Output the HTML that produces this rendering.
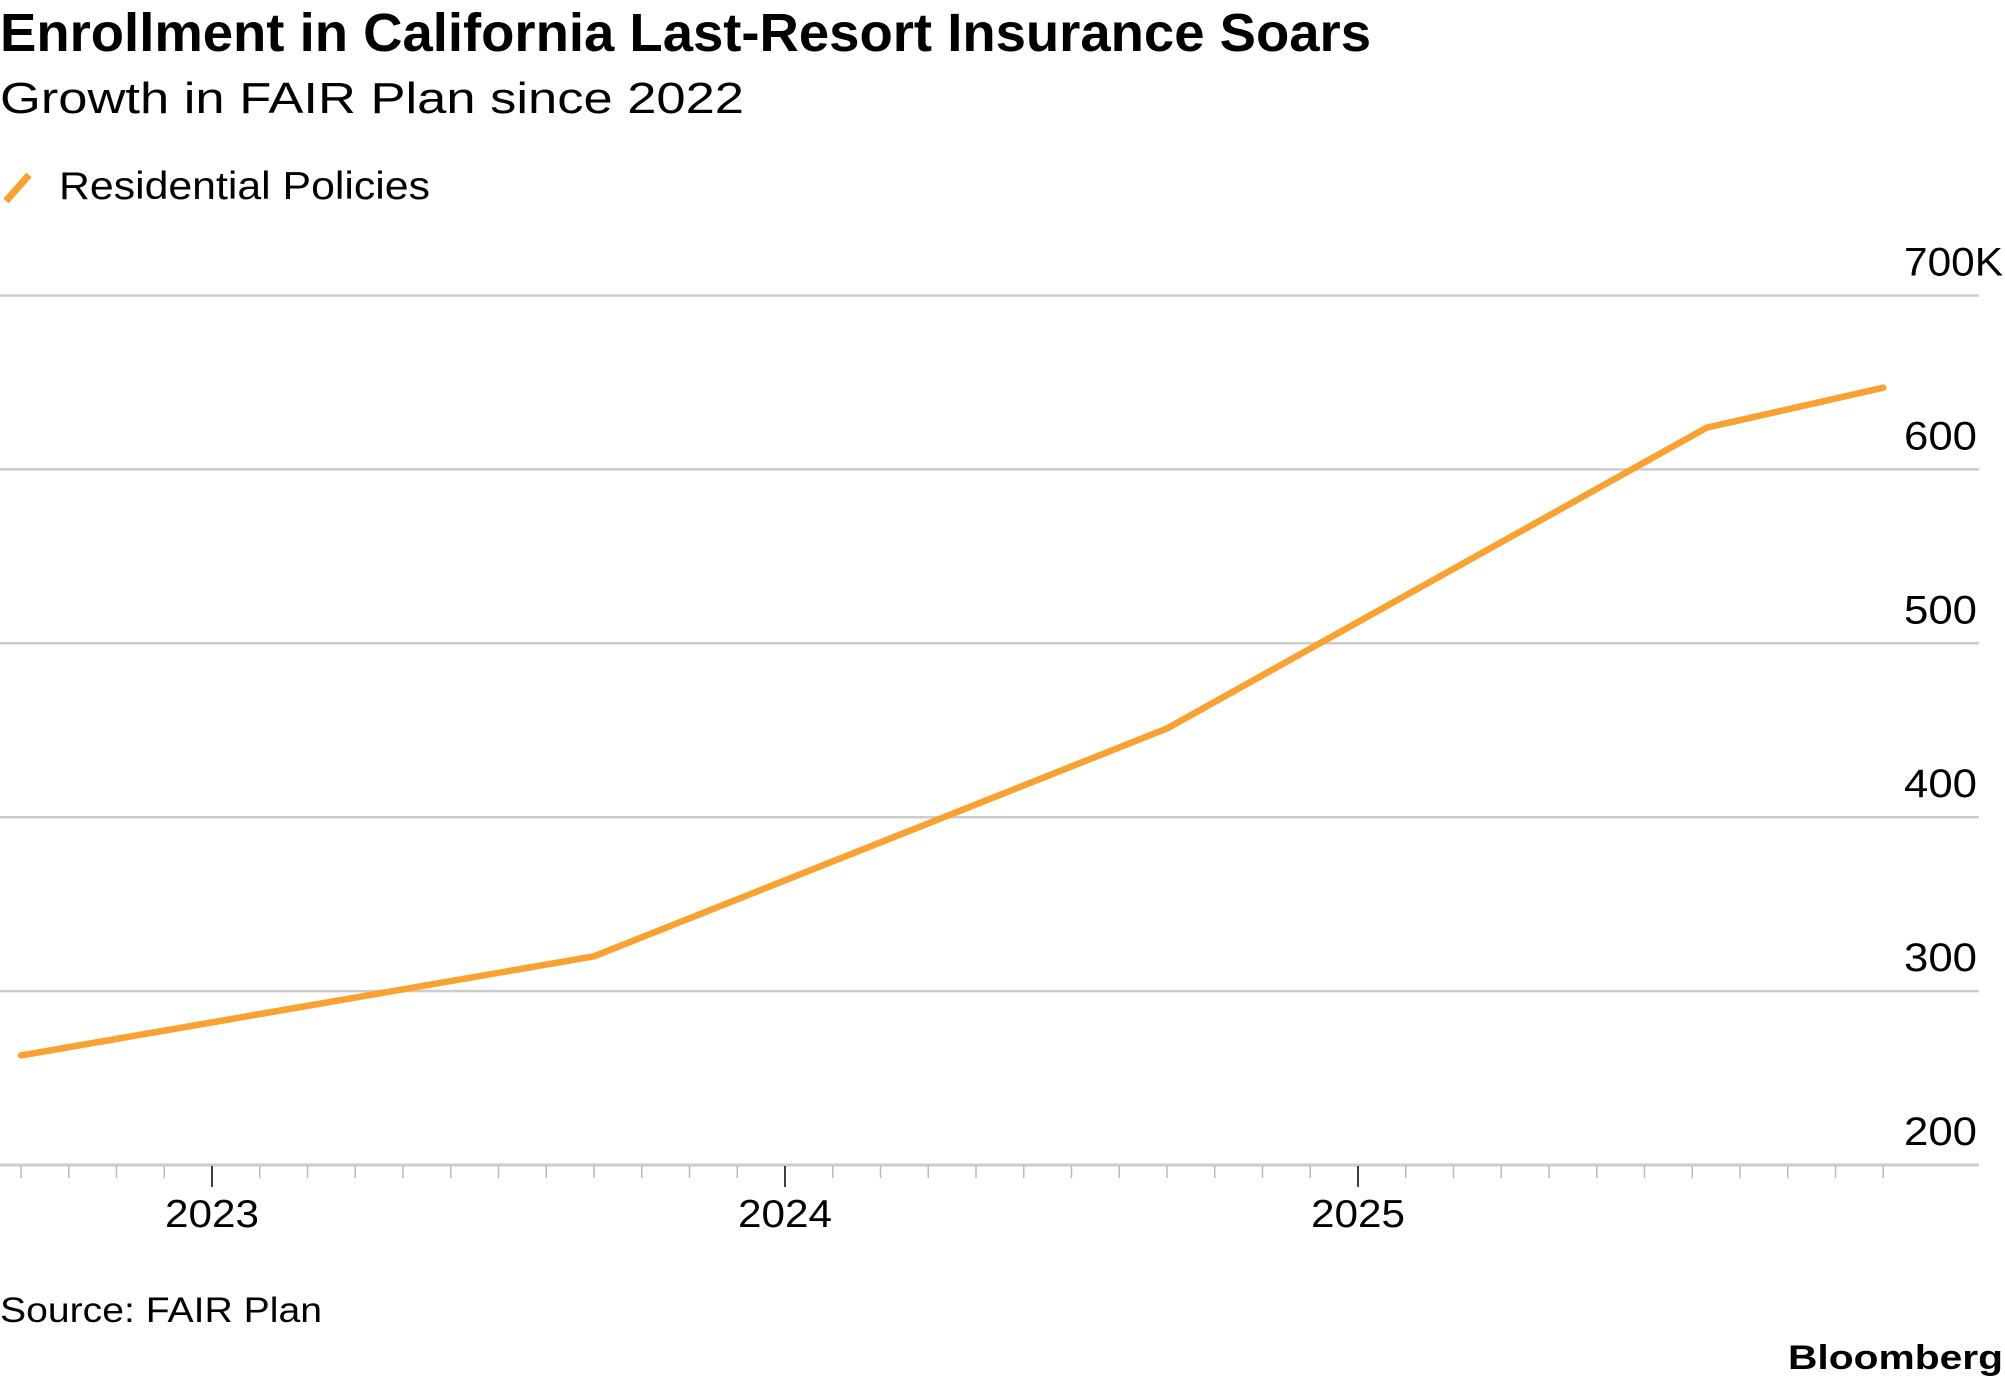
<!DOCTYPE html>
<html><head><meta charset="utf-8"><style>
html,body{margin:0;padding:0;background:#fff;}
svg{display:block;font-family:"Liberation Sans",sans-serif;}
</style></head><body>
<svg id="chart" width="2005" height="1392" viewBox="0 0 2005 1392" xmlns="http://www.w3.org/2000/svg">
<text x="0" y="51" font-size="54" font-weight="bold" fill="#000" textLength="1371" lengthAdjust="spacingAndGlyphs">Enrollment in California Last-Resort Insurance Soars</text>
<text x="0" y="113" font-size="44" fill="#000" textLength="744" lengthAdjust="spacingAndGlyphs">Growth in FAIR Plan since 2022</text>
<g>
<line x1="6" y1="201" x2="29" y2="175" stroke="#f9a131" stroke-width="7"/>
<text x="59" y="199" font-size="39" fill="#000" textLength="371" lengthAdjust="spacingAndGlyphs">Residential Policies</text>
</g>
<g id="grid"></g>
<g id="xaxis"></g>
<g id="series"></g>
<text x="0" y="1322" font-size="35" fill="#000" textLength="322" lengthAdjust="spacingAndGlyphs">Source: FAIR Plan</text>
<text x="1788" y="1369" font-size="34" font-weight="bold" fill="#000" textLength="215" lengthAdjust="spacingAndGlyphs">Bloomberg</text>
</svg>
<script>
// data (months since Jan 2022, values in thousands)
const months = [8, 20, 32, 43.3, 47];
const values = [263, 320, 451, 624, 647];
const yTicks = [200, 300, 400, 500, 600, 700];
const yTickLabels = ["200", "300", "400", "500", "600", "700K"];
const years = [2023, 2024, 2025];

const NS = "http://www.w3.org/2000/svg";
function xScale(m){ return 212 + (m - 12) * 47.75; }
function yScale(v){ return 1165 - (v - 200) * 1.739; }
function mk(tag, attrs){ const e = document.createElementNS(NS, tag); for (const k in attrs) e.setAttribute(k, attrs[k]); return e; }

const grid = document.getElementById('grid');
yTicks.forEach((v, i) => {
  const y = yScale(v);
  const ln = mk('line', {x1: 0, x2: 1979, y1: y, y2: y, stroke: '#cccccc', 'stroke-width': i === 0 ? 3 : 2.5});
  
  
  grid.appendChild(ln);
  const lbl = yTickLabels[i];
  const t = mk('text', {x: 1904, y: y - 20, 'font-size': 40, fill: '#000', textLength: lbl.length === 4 ? 99 : 73, lengthAdjust: 'spacingAndGlyphs'});
  
  
  t.textContent = lbl;
  grid.appendChild(t);
});

const xa = document.getElementById('xaxis');
for (let m = 8; m <= 47; m++) {
  const x = xScale(m);
  const major = (m % 12 === 0);
  const tk = mk('line', {x1: x, x2: x, y1: 1166, y2: major ? 1187 : 1178, stroke: major ? '#000' : '#bbbbbb', 'stroke-width': 1.5});
  
  
  xa.appendChild(tk);
}
years.forEach(yr => {
  const x = xScale((yr - 2022) * 12);
  const t = mk('text', {x: x - 47, y: 1227, 'font-size': 39, fill: '#000', textLength: 94, lengthAdjust: 'spacingAndGlyphs'});
  
  
  t.textContent = String(yr);
  xa.appendChild(t);
});

const pts = months.map((m, i) => xScale(m).toFixed(1) + ',' + yScale(values[i]).toFixed(1)).join(' ');
const line = mk('polyline', {points: pts, fill: 'none', stroke: '#f9a131', 'stroke-width': 6.5, 'stroke-linejoin': 'round', 'stroke-linecap': 'round'});


document.getElementById('series').appendChild(line);
</script>
</body></html>
